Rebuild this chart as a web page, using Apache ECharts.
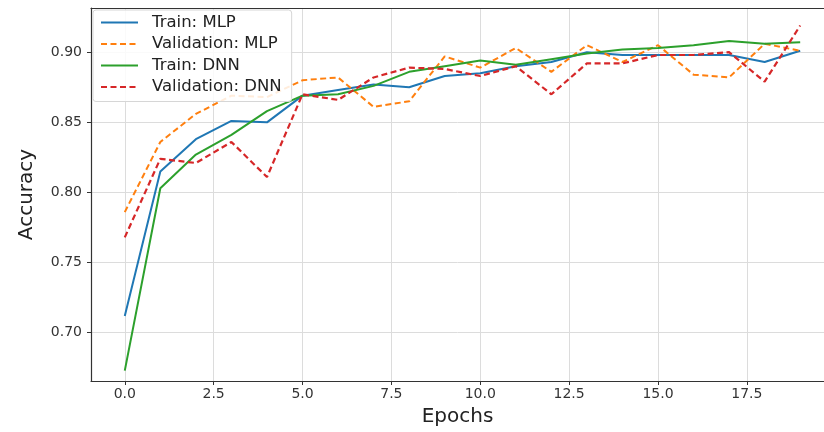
<!DOCTYPE html>
<html>
<head>
<meta charset="utf-8">
<script src="https://cdn.jsdelivr.net/npm/echarts@6/dist/echarts.min.js"></script>
<style>
  html, body { margin: 0; background: #fff; }
  #chart { width: 824px; height: 432px; }
</style>
</head>
<body>
<div id="chart"></div>
<script>
// values
var epochs = [0, 1, 2, 3, 4, 5, 6, 7, 8, 9, 10, 11, 12, 13, 14, 15, 16, 17, 18, 19]
var trainMlp = [0.712, 0.815, 0.838, 0.851, 0.850, 0.869, 0.873, 0.877, 0.875, 0.883, 0.885, 0.890, 0.893, 0.900, 0.898, 0.898, 0.898, 0.898, 0.893, 0.901]
var valMlp = [0.786, 0.836, 0.856, 0.869, 0.868, 0.880, 0.882, 0.861, 0.865, 0.897, 0.889, 0.903, 0.886, 0.905, 0.893, 0.905, 0.884, 0.882, 0.906, 0.901]
var trainDnn = [0.673, 0.803, 0.827, 0.841, 0.858, 0.869, 0.870, 0.876, 0.886, 0.890, 0.894, 0.891, 0.895, 0.899, 0.902, 0.903, 0.905, 0.908, 0.906, 0.907]
var valDnn = [0.768, 0.824, 0.821, 0.836, 0.811, 0.870, 0.866, 0.882, 0.889, 0.888, 0.883, 0.890, 0.870, 0.892, 0.892, 0.898, 0.898, 0.900, 0.879, 0.919]
var xTicks = [0, 2.5, 5, 7.5, 10, 12.5, 15, 17.5]
var yTicks = [0.70, 0.75, 0.80, 0.85, 0.90]

var names = ['Train: MLP', 'Validation: MLP', 'Train: DNN', 'Validation: DNN']
var colors = ['#1f77b4', '#ff7f0e', '#2ca02c', '#d62728']
var dashes = ['solid', [6, 3.5], 'solid', [6, 3.5]]
var widths = [2, 2, 2, 2.2]
var seqs = [trainMlp, valMlp, trainDnn, valDnn]

var font = 'DejaVu Sans'
var chart = echarts.init(document.getElementById('chart'))

var series = []
for (var i = 0; i < names.length; i++) {
  series.push({
    name: names[i],
    type: 'line',
    symbol: 'none',
    data: epochs.map(function (e, k) { return [e, this[k]] }, seqs[i]),
    lineStyle: { color: colors[i], width: widths[i], type: dashes[i] },
    itemStyle: { color: colors[i] },
    z: 3
  })
}

chart.setOption({
  animation: false,
  backgroundColor: '#fff',
  textStyle: { fontFamily: font },
  grid: { left: 91, top: 8, right: 0, bottom: 49 },
  legend: {
    orient: 'vertical',
    left: 93,
    top: 10,
    data: names,
    itemWidth: 37,
    itemHeight: 14,
    itemGap: 4.5,
    padding: [4, 10, 6, 7],
    backgroundColor: 'rgba(255,255,255,0.85)',
    borderColor: '#d6d6d6',
    borderWidth: 1,
    borderRadius: 3,
    itemStyle: { opacity: 0 },
    textStyle: { fontFamily: font, fontSize: 16.5, lineHeight: 17, color: '#222', padding: [0, 0, 0, 9] },
    z: 10
  },
  xAxis: [{
    type: 'value',
    min: -0.95,
    max: 19.67,
    name: 'Epochs',
    nameLocation: 'middle',
    nameGap: 26,
    nameTextStyle: { fontFamily: font, fontSize: 20, color: '#222' },
    axisLine: { onZero: false, lineStyle: { color: '#333', width: 1.2 } },
    axisTick: { customValues: xTicks, length: 4, lineStyle: { color: '#333' } },
    axisLabel: {
      customValues: xTicks,
      margin: 6,
      fontSize: 14,
      color: '#333',
      formatter: function (v) { return v.toFixed(1) }
    },
    splitLine: { show: true, lineStyle: { color: '#dcdcdc', width: 1 } }
  }, {
    type: 'value',
    position: 'top',
    min: -0.95,
    max: 19.67,
    axisLine: { onZero: false, lineStyle: { color: '#333', width: 1.2 } },
    axisTick: { show: false },
    axisLabel: { show: false },
    splitLine: { show: false }
  }],
  yAxis: {
    type: 'value',
    min: 0.6656,
    max: 0.9315,
    name: 'Accuracy',
    nameLocation: 'middle',
    nameGap: 54,
    nameTextStyle: { fontFamily: font, fontSize: 20, color: '#222' },
    axisLine: { show: true, onZero: false, lineStyle: { color: '#333', width: 1.2 } },
    axisTick: { show: true, customValues: yTicks, length: 4, lineStyle: { color: '#333' } },
    axisLabel: {
      customValues: yTicks,
      margin: 9,
      fontSize: 14,
      color: '#333',
      formatter: function (v) { return v.toFixed(2) }
    },
    splitLine: { show: true, lineStyle: { color: '#dcdcdc', width: 1 } }
  },
  series: series
})
</script>
</body>
</html>
